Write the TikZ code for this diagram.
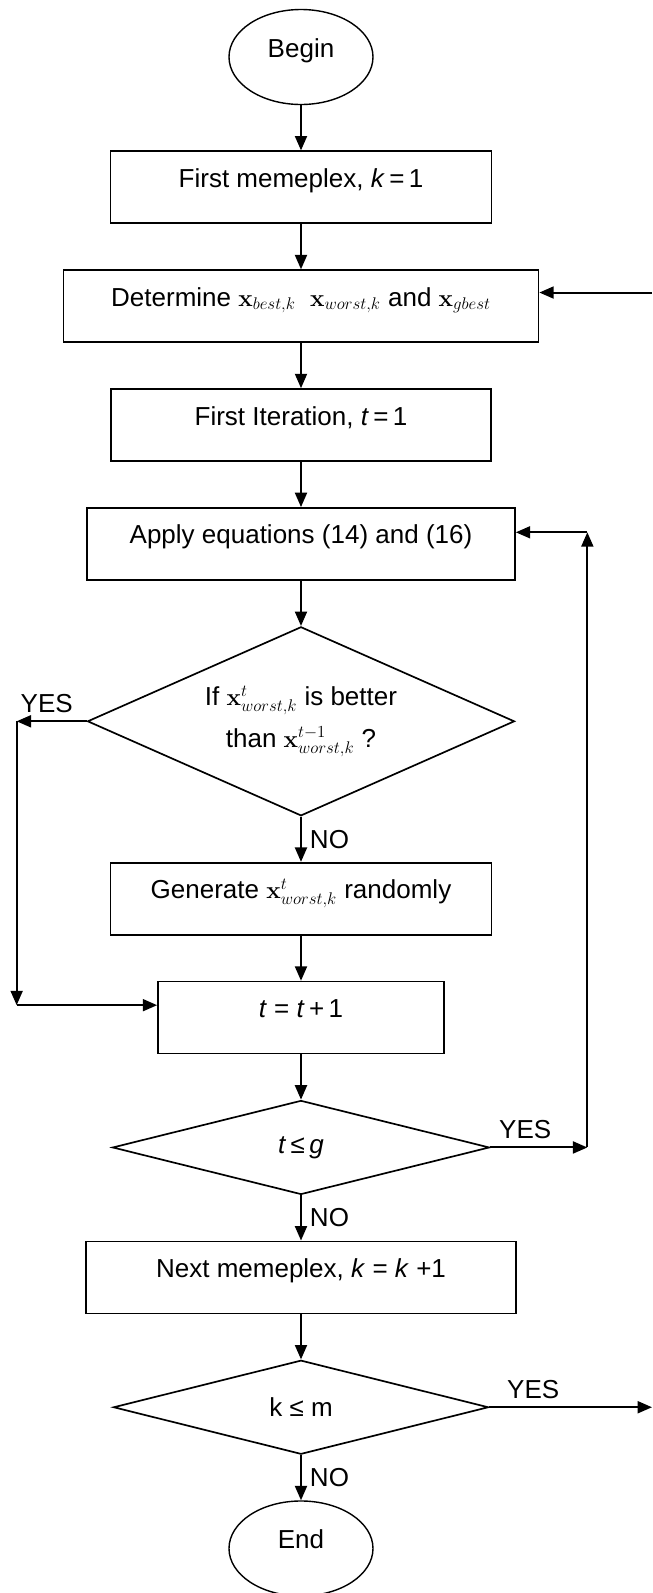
\documentclass[tikz,border=0pt]{standalone}
\usepackage[no-math]{fontspec}
\setmainfont{Liberation Sans}
\usetikzlibrary{%
	calc,%
	arrows.meta,%
	shapes.geometric,%
	positioning,%
}
\tikzset{
	>={Triangle[length=0.36cm,width=0.3cm]},%
	nodes={align=center},%
	terminal/.style={%
			draw,%
			ellipse,%
			line width=1pt,%
			inner sep=0pt,%
			text height=0.3cm,%
			text depth=0.3cm,%
			minimum width=3.6cm,%
			minimum height=2.375cm},%
	process/.style={%
			draw,%
			rectangle,%
			line width=1.2pt,%
			inner ysep=0pt,%
			text height=0.9cm,%
			text depth=0.9cm},%
	decision/.style={%
			draw,%
			diamond,%
			line width=1.2pt,%
			inner sep=0pt},%
	answer/.style={%
			inner sep=0.2cm},%
}

\begin{document}
\begin{tikzpicture}[nodes={font={\fontsize{18.5}{23}\selectfont}}, node distance=1.13cm, line width=1.4pt]%
	\useasboundingbox (-7.525,1.425) rectangle (8.775,-38.4);

	\node[terminal] (begin) {Begin};
	\node[process, minimum width=9.525cm] (first) [below=of begin] {First memeplex, \textit{k}\,=\,1};
	\node[process, minimum width=11.875cm] (det) [below=of first] {Determine $\mathbf{x}_{best,k}$\ \ $\mathbf{x}_{worst,k}$ and $\mathbf{x}_{gbest}$};
	\node[process, minimum width=9.5cm] (iter) [below=of det] {First Iteration, \textit{t}\,=\,1};
	\node[process, minimum width=10.7cm] (apply) [below=of iter] {Apply equations (14) and (16)};
	\node[decision, aspect=2.26, minimum width=10.675cm, minimum height=4.725cm] (better) [below=of apply] {If $\mathbf{x}^{t}_{worst,k}$ is better\\[0.25cm] than $\mathbf{x}^{t-1}_{worst,k}$ ?};
	\node[process, minimum width=9.525cm] (gen) [below=of better] {Generate $\mathbf{x}^{t}_{worst,k}$ randomly};
	\node[process, minimum width=7.15cm] (inc) [below=of gen] {\textit{t} = \textit{t}\,+\,1};
	\node[decision, aspect=4, minimum width=9.425cm, minimum height=2.35cm] (tleg) [below=of inc] {\textit{t}\,≤\,\textit{g}};
	\node[process, minimum width=10.75cm] (next) [below=of tleg] {Next memeplex, \textit{k} = \textit{k} +1};
	\node[decision, aspect=4, minimum width=9.375cm, minimum height=2.35cm] (klem) [below=of next] {k ≤ m};
	\node[terminal] (end) [below=of klem] {End};

	\coordinate (edge) at (8.775,0);
	\coordinate (yesturn) at ($(better.west)+(-1.75,0)$);
	\coordinate (incin) at ($(inc.west)+(0,0.31)$);
	\coordinate (yesdown) at (yesturn |- incin);
	\coordinate (loopbot) at ($(tleg.east)+(2.425,0)$);
	\coordinate (applyin) at ($(apply.east)+(0,0.29)$);
	\coordinate (looptop) at (loopbot |- applyin);
	\coordinate (outbot) at (klem.east -| edge);
	\coordinate (detin) at ($(det.east)+(0,0.34)$);
	\coordinate (outtop) at (detin -| edge);

	\draw[->] (begin) -- (first);
	\draw[->] (first) -- (det);
	\draw[->] (det) -- (iter);
	\draw[->] (iter) -- (apply);
	\draw[->] (apply) -- (better);
	\draw[->] (better) -- node[answer, right] {NO} (gen);
	\draw[->] (gen) -- (inc);
	\draw[->] (inc) -- (tleg);
	\draw[->] (tleg) -- node[answer, right] {NO} (next);
	\draw[->] (next) -- (klem);
	\draw[->] (klem) -- node[answer, right] {NO} (end);

	\draw[->] (better.west) -- node[answer, above, pos=0.57] {YES} (yesturn);
	\draw[->] (yesturn) -- (yesdown);
	\draw[->] (yesdown) -- (incin);

	\draw[->] (tleg.east) -- node[answer, above, pos=0.36] {YES} (loopbot);
	\draw[->] (loopbot) -- (looptop);
	\draw[->] (looptop) -- (applyin);

	\draw[->] (klem.east) -- node[answer, above, pos=0.27] {YES} (outbot);
	\draw[->] (outtop) -- (detin);
\end{tikzpicture}
\end{document}
